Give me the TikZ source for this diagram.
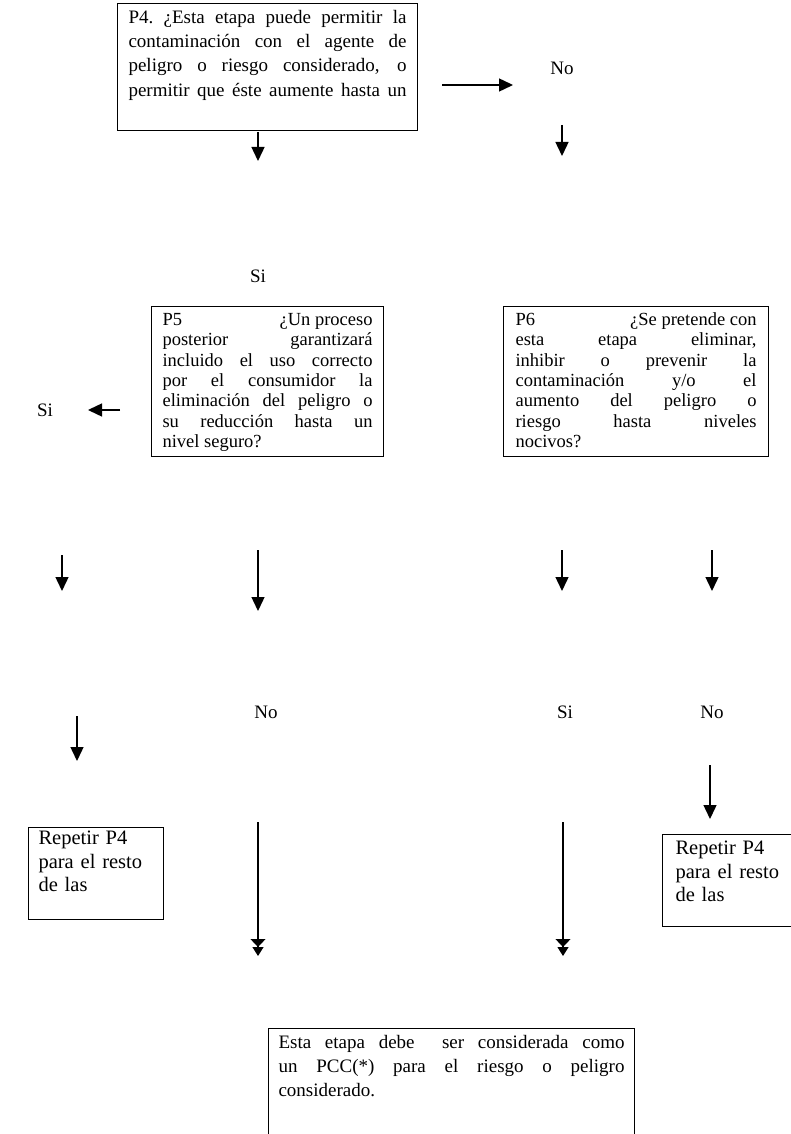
\documentclass[tikz,border=0pt]{standalone}
\usepackage{fontspec}
\setmainfont{Liberation Serif}
\usetikzlibrary{arrows.meta}
\begin{document}
\begin{tikzpicture}[x=1pt,y=-1pt,
  arr/.style={line width=1.4pt,-{Triangle[length=14pt,width=13pt]}},
  darr/.style={line width=1.2pt,-{Triangle[length=8pt,width=15pt]Triangle[length=9pt,width=11pt]}},
  qbox/.style={draw,line width=1.1pt,anchor=north west,inner ysep=0pt,inner xsep=11pt,align=justify,
    font=\fontsize{19}{24.2}\selectfont,text height=20pt},
  sbox/.style={qbox,font=\fontsize{18.5}{20.3}\selectfont,text height=19pt,text depth=131pt},
  rbox/.style={draw,line width=1.1pt,anchor=north west,inner ysep=0pt,inner xsep=10pt,align=left,
    font=\fontsize{20.5}{23.5}\selectfont},
  lab/.style={font=\fontsize{19}{24}\selectfont,inner sep=0pt}]
\clip (0,0) rectangle (791,1134);
\fill[white] (0,0) rectangle (791,1134);

% boxes
\node[qbox,text width=278pt,text depth=107pt] (p4) at (117,3)
 {P4.\ ¿Esta etapa puede permitir la\linebreak contaminación con el agente de\linebreak peligro o riesgo considerado, o\linebreak permitir que éste aumente hasta un\linebreak\mbox{}};
\node[sbox,text width=210pt] (p5) at (151,306)
 {P5\hfill ¿Un proceso\linebreak posterior garantizará\linebreak incluido el uso correcto\linebreak por el consumidor la\linebreak eliminación del peligro o\linebreak su reducción hasta un\linebreak nivel seguro?};
\node[sbox,inner xsep=12pt,text width=241pt] (p6) at (503,306)
 {P6\hfill ¿Se pretende con\linebreak esta etapa eliminar,\linebreak inhibir o prevenir la\linebreak contaminación y/o el\linebreak aumento del peligro o\linebreak riesgo hasta niveles\linebreak nocivos?};
\node[qbox,inner xsep=10pt,text width=346pt,text depth=130pt] (pcc) at (268,1028)
 {Esta etapa debe\ \ ser considerada como\linebreak un PCC(*) para el riesgo o peligro\linebreak considerado.};
\node[rbox,text width=115pt,text height=17pt,text depth=75pt] (r1) at (28,827)
 {Repetir P4\\para el resto\\de las};
\node[rbox,inner xsep=13pt,text width=140pt,text height=20pt,text depth=72pt] (r2) at (662,834)
 {Repetir P4\\para el resto\\de las};

% labels
\node[lab] (no1) at (562,68) {No};
\node[lab] (si1) at (258,276) {Si};
\node[lab] (si2) at (45,410) {Si};
\node[lab] (no2) at (266,712) {No};
\node[lab] (si3) at (565,712) {Si};
\node[lab] (no3) at (712,712) {No};

% arrow end points
\coordinate (a1s) at (442,85);  \coordinate (a1e) at (513,85);
\coordinate (a2s) at (562,125); \coordinate (a2e) at (562,156);
\coordinate (a3s) at (258,132); \coordinate (a3e) at (258,161);
\coordinate (a4s) at (120,410); \coordinate (a4e) at (88,410);
\coordinate (a5s) at (62,555);  \coordinate (a5e) at (62,591);
\coordinate (a6s) at (258,550); \coordinate (a6e) at (258,611);
\coordinate (a7s) at (562,550); \coordinate (a7e) at (562,591);
\coordinate (a8s) at (712,550); \coordinate (a8e) at (712,591);
\coordinate (a9s) at (77,716);  \coordinate (a9e) at (77,761);
\coordinate (a10s) at (710,765); \coordinate (a10e) at (710,819);
\coordinate (a11s) at (258,822); \coordinate (a11e) at (258,956);
\coordinate (a12s) at (563,822); \coordinate (a12e) at (563,956);

\draw[arr] (a1s) -- (a1e);
\draw[arr] (a2s) -- (a2e);
\draw[arr] (a3s) -- (a3e);
\draw[arr] (a4s) -- (a4e);
\draw[arr] (a5s) -- (a5e);
\draw[arr] (a6s) -- (a6e);
\draw[arr] (a7s) -- (a7e);
\draw[arr] (a8s) -- (a8e);
\draw[arr] (a9s) -- (a9e);
\draw[arr] (a10s) -- (a10e);
\draw[darr] (a11s) -- (a11e);
\draw[darr] (a12s) -- (a12e);
\end{tikzpicture}
\end{document}
